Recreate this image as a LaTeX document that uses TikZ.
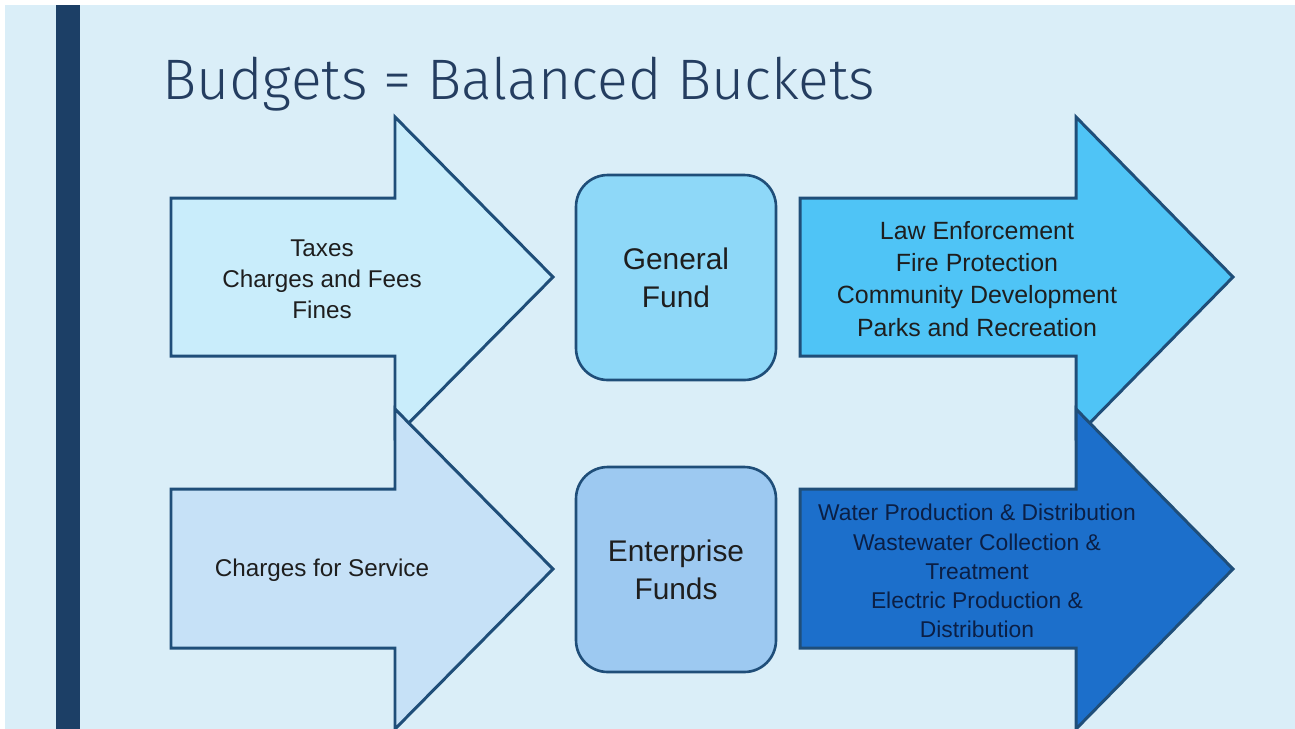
\documentclass[tikz,border=0pt]{standalone}
\usepackage{fontspec}
\setmainfont{Liberation Sans}
\newfontfamily\titlefont{Fira Sans}[UprightFont=* Light]
\usetikzlibrary{positioning}

\definecolor{bg}{HTML}{DAEEF8}
\definecolor{bar}{HTML}{1C3F66}
\definecolor{edge}{HTML}{1F4E79}
\definecolor{titleblue}{HTML}{243D60}
\definecolor{inA}{HTML}{C9EDFB}
\definecolor{inB}{HTML}{C6E1F7}
\definecolor{fundA}{HTML}{8ED8F8}
\definecolor{fundB}{HTML}{9DC9F1}
\definecolor{outA}{HTML}{4FC4F6}
\definecolor{outB}{HTML}{1C6FCB}
\definecolor{txt}{HTML}{1E1E1E}
\definecolor{navytxt}{HTML}{0B1F45}

\begin{document}
\begin{tikzpicture}[x=0.02cm, y=-0.02cm,
  flow/.style={draw=edge, line width=1.7pt, line join=miter},
  fund/.style={draw=edge, line width=1.5pt, rounded corners=18pt, minimum width=4cm,
    minimum height=4.1cm, text=txt, align=center, font=\fontsize{17}{21.5}\selectfont},
  lbl/.style={align=center, text=txt}]
\useasboundingbox (0,0) rectangle (1295,728);
\clip (0,0) rectangle (1295,728);
\fill[white] (0,0) rectangle (1295,728);
\fill[bg] (5,5) rectangle (1296,729);
\fill[bar] (56,5) rectangle (80,729);
\node[anchor=base west, inner sep=0pt, text=titleblue, font=\titlefont\fontsize{32.5}{38}\selectfont] (title) at (162,99) {Budgets = Balanced Buckets};

% money coming in
\draw[flow, fill=inA] (171,198) -- (395,198) -- (395,117) -- (553,277) -- (395,437) -- (395,356) -- (171,356) -- cycle;
\draw[flow, fill=inB] (171,489) -- (395,489) -- (395,409) -- (553,569) -- (395,729) -- (395,648) -- (171,648) -- cycle;
\node[lbl, font=\fontsize{13.8}{17.6}\selectfont] (taxes) at (322,279) {Taxes\\Charges and Fees\\Fines};
\node[lbl, font=\fontsize{13.8}{17.6}\selectfont] (charges) at (322,570) {Charges for Service};

% the buckets
\node[fund, fill=fundA] (gf) at (676,277.5) {General\\Fund};
\node[fund, fill=fundB] (ef) at (676,569.5) {Enterprise\\Funds};

% money going out
\draw[flow, fill=outA] (800,198) -- (1076,198) -- (1076,117) -- (1233,277) -- (1076,437) -- (1076,356) -- (800,356) -- cycle;
\draw[flow, fill=outB] (800,489) -- (1076,489) -- (1076,409) -- (1233,569) -- (1076,729) -- (1076,648) -- (800,648) -- cycle;
\node[lbl, font=\fontsize{14.2}{18.3}\selectfont] (services) at (977,279) {Law Enforcement\\Fire Protection\\Community Development\\Parks and Recreation};
\node[lbl, text=navytxt, font=\fontsize{13}{16.6}\selectfont] (utilities) at (977,571) {Water Production \& Distribution\\Wastewater Collection \&\\Treatment\\Electric Production \&\\Distribution};
\end{tikzpicture}
\end{document}
